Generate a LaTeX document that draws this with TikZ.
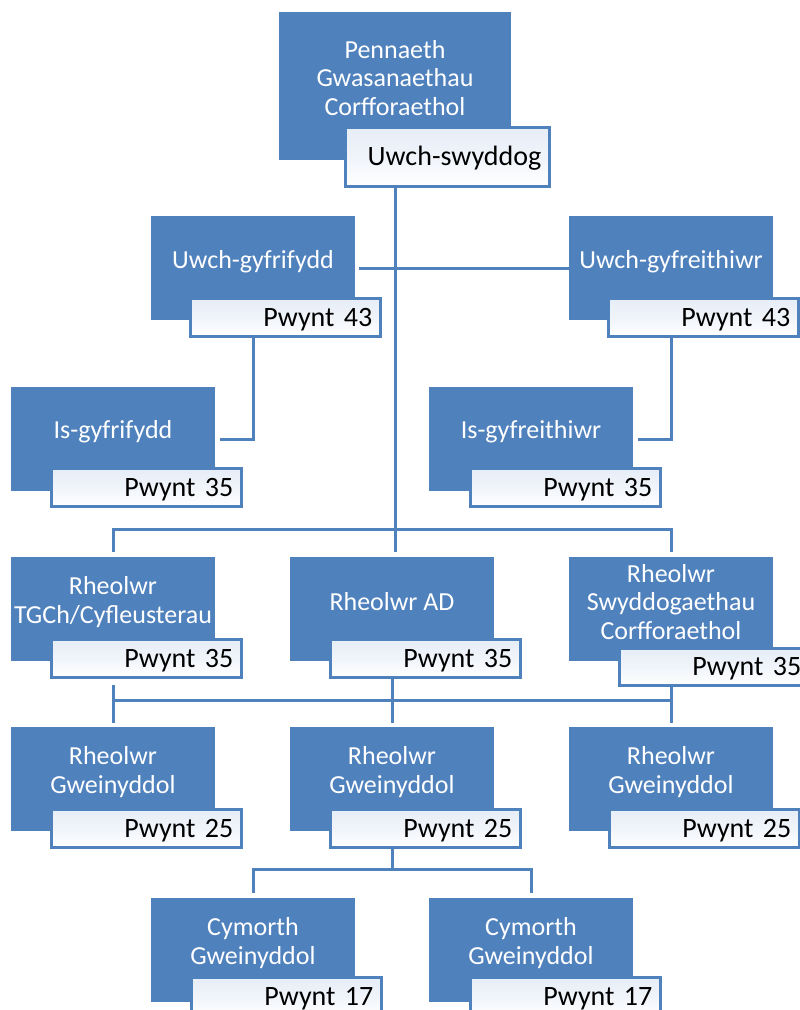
\documentclass[tikz,border=0pt]{standalone}
\usepackage{fontspec}
\newfontfamily\calfont{Carlito}
\usetikzlibrary{calc}
\definecolor{bblue}{RGB}{79,129,189}
\definecolor{ltint}{RGB}{230,237,247}
\begin{document}
\begin{tikzpicture}[x=1pt,y=-1pt,
  bluebox/.style={fill=bblue, draw=none, anchor=north west, inner sep=0pt, minimum width=204pt, minimum height=104pt},
  btext/.style={text=white, font=\calfont\fontsize{26}{28.5}\selectfont, align=center, inner sep=0pt},
  lbl/.style={draw=bblue, line width=2.5pt, top color=ltint, bottom color=white, middle color=ltint!60!white, anchor=north west, minimum width=190pt, minimum height=38pt, inner xsep=8pt, inner ysep=0pt, text width=174pt, align=right, font=\calfont\fontsize{28}{30}\selectfont, text height=18pt, text depth=0pt},
  conn/.style={draw=bblue, line width=3pt}
]
\useasboundingbox (0,0) rectangle (800,1010);
\fill[white] (0,0) rectangle (800,1010);
\clip (0,0) rectangle (800,1010);

% blue boxes
\node[bluebox, minimum width=232pt, minimum height=148pt] (topb) at (279,12) {};
\node[bluebox] (ug) at (151,216) {};
\node[bluebox] (uf) at (569,216) {};
\node[bluebox] (ig) at (11,387) {};
\node[bluebox] (if) at (429,387) {};
\node[bluebox] (r1) at (11,557) {};
\node[bluebox] (r2) at (290,557) {};
\node[bluebox] (r3) at (569,557) {};
\node[bluebox] (g1) at (11,727) {};
\node[bluebox] (g2) at (290,727) {};
\node[bluebox] (g3) at (569,727) {};
\node[bluebox] (c1) at (151,898) {};
\node[bluebox] (c2) at (429,898) {};

% box texts
\node[btext] (topt) at (395,78) {Pennaeth\\Gwasanaethau\\Corfforaethol};
\node[btext] (ugt) at (253,262) {Uwch-gyfrifydd};
\node[btext] (uft) at (671,262) {Uwch-gyfreithiwr};
\node[btext] (igt) at (113,432) {Is-gyfrifydd};
\node[btext] (ift) at (531,432) {Is-gyfreithiwr};
\node[btext] (r1t) at (113,602) {Rheolwr\\TGCh/Cyfleusterau};
\node[btext] (r2t) at (392,602) {Rheolwr AD};
\node[btext] (r3t) at (671,602) {Rheolwr\\Swyddogaethau\\Corfforaethol};
\node[btext] (g1t) at (113,772) {Rheolwr\\Gweinyddol};
\node[btext] (g2t) at (392,772) {Rheolwr\\Gweinyddol};
\node[btext] (g3t) at (671,772) {Rheolwr\\Gweinyddol};
\node[btext] (c1t) at (253,943) {Cymorth\\Gweinyddol};
\node[btext] (c2t) at (531,943) {Cymorth\\Gweinyddol};

% labels
\node[lbl, minimum width=204pt, minimum height=59pt, text width=188pt] (topl) at (344,126) {Uwch-swyddog};
\node[lbl] (ugl) at (189,297) {Pwynt 43};
\node[lbl] (ufl) at (607,297) {Pwynt 43};
\node[lbl] (igl) at (50,467) {Pwynt 35};
\node[lbl] (ifl) at (469,467) {Pwynt 35};
\node[lbl] (r1l) at (50,638) {Pwynt 35};
\node[lbl] (r2l) at (329,638) {Pwynt 35};
\node[lbl, minimum height=37pt] (r3l) at (618,647) {Pwynt 35};
\node[lbl] (g1l) at (50,808) {Pwynt 25};
\node[lbl] (g2l) at (329,808) {Pwynt 25};
\node[lbl] (g3l) at (608,808) {Pwynt 25};
\node[lbl] (c1l) at (190,976) {Pwynt 17};
\node[lbl] (c2l) at (469,976) {Pwynt 17};

% connectors
\coordinate (bus1) at ($(r1.north)+(0,-28)$);
\coordinate (r2top) at ($(r2.north)+(0,-5)$);
\draw[conn] (topb.center |- topl.south) -- (topb.center |- r2top);
\draw[conn] ($(ug.east)+(4,0)$) -- (uf.west);
\draw[conn] (ug.center |- ugl.south) |- ($(ig.east)+(5,0)$);
\draw[conn] (uf.center |- ufl.south) |- ($(if.east)+(5,0)$);
\draw[conn] ($(r1.north)+(0,-5)$) -- (bus1) -| ($(r3.north)+(0,-5)$);

\coordinate (bus2) at ($(g1.north)+(0,-27)$);
\draw[conn] ($(r1.center |- r1l.south)+(0,6)$) -- ($(g1.north)+(0,-4)$);
\draw[conn] (r2.center |- r2l.south) -- ($(g2.north)+(0,-4)$);
\draw[conn] (r3.center |- r3l.south) -- ($(g3.north)+(0,-4)$);
\draw[conn] (bus2) -- (g3.north |- bus2);

\coordinate (bus3) at ($(c1.north)+(0,-29)$);
\draw[conn] (g2.center |- g2l.south) -- (g2.center |- bus3);
\draw[conn] ($(c1.north)+(0,-5)$) -- (bus3) -| ($(c2.north)+(0,-5)$);
\end{tikzpicture}
\end{document}
